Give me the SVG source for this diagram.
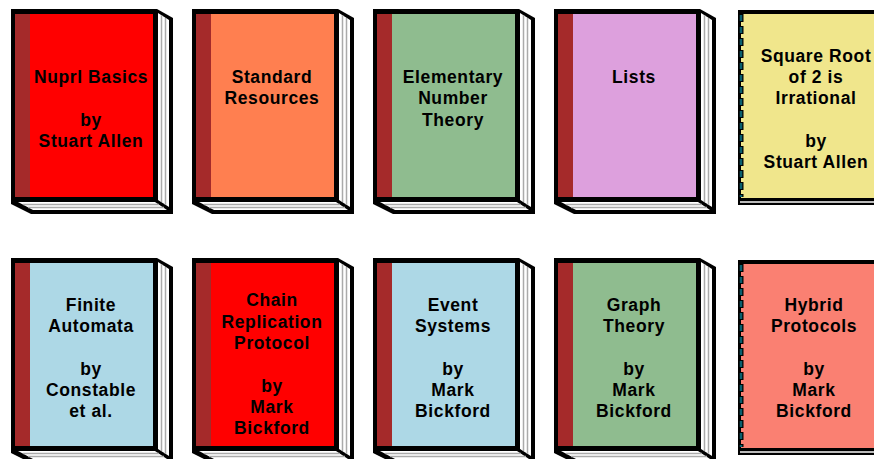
<svg xmlns="http://www.w3.org/2000/svg" xmlns:xlink="http://www.w3.org/1999/xlink" width="874" height="459" viewBox="0 0 874 459">
<style>
text{font-family:"Liberation Sans",Arial,sans-serif;font-weight:bold;font-size:17.5px;letter-spacing:.6px;text-anchor:middle;fill:#000}
.k{fill:#000}.w{fill:#fff}.g{fill:#bbb}.b{fill:#a52a2a}
.pg{stroke:#aaa;stroke-width:1.500;fill:none}
.beadk{stroke:#000;stroke-width:5;stroke-dasharray:8 4;fill:none}
.beadt{stroke:#0a5f6e;stroke-width:2.500;stroke-dasharray:6 6;stroke-dashoffset:-1;fill:none}
</style>
<defs>
<g id="book">
<path class="k" d="M11 9H157L173 18V214H31L11 204Z"/>
<path class="w" d="M158 13L169 20V207L158 200Z"/>
<path class="w" d="M18 202H155L167 210H33Z"/>
<path class="pg" d="M161.500 15V202M165.500 18V205"/>
<path class="pg" d="M23 204.500H159M28 207.500H164"/>
<rect class="b" x="15" y="14" width="15" height="183"/>
</g>
<g id="notebook">
<rect class="k" x="738" y="10" width="140" height="195"/>
<rect x="740" y="201" width="140" height="2" class="g"/>
</g>
<path id="beads" d="M741 14V197"/>
</defs>
<g id="book-nuprl"><use xlink:href="#book"/><rect x="30" y="14" width="123" height="183" fill="#f00"/><text x="91" y="83">Nuprl Basics</text><text x="91" y="126">by</text><text x="91" y="147">Stuart Allen</text></g>
<g id="book-standard" transform="translate(181 0)"><use xlink:href="#book"/><rect x="30" y="14" width="123" height="183" fill="#ff7f50"/><text x="91" y="83">Standard</text><text x="91" y="104">Resources</text></g>
<g id="book-number" transform="translate(362 0)"><use xlink:href="#book"/><rect x="30" y="14" width="123" height="183" fill="#8fbc8f"/><text x="91" y="83">Elementary</text><text x="91" y="104">Number</text><text x="91" y="126">Theory</text></g>
<g id="book-lists" transform="translate(543 0)"><use xlink:href="#book"/><rect x="30" y="14" width="123" height="183" fill="#dda0dd"/><text x="91" y="83">Lists</text></g>
<g id="notebook-sqrt"><use xlink:href="#notebook"/><rect x="741" y="14" width="133" height="184" fill="#f0e68c"/><use xlink:href="#beads" class="beadk"/><use xlink:href="#beads" class="beadt"/><text x="816" y="62">Square Root</text><text x="816" y="83">of 2 is</text><text x="816" y="104">Irrational</text><text x="816" y="147">by</text><text x="816" y="168">Stuart Allen</text></g>
<g id="book-automata" transform="translate(0 249)"><use xlink:href="#book"/><rect x="30" y="14" width="123" height="183" fill="#add8e6"/><text x="91" y="62">Finite</text><text x="91" y="83">Automata</text><text x="91" y="126">by</text><text x="91" y="147">Constable</text><text x="91" y="168">et al.</text></g>
<g id="book-chain" transform="translate(181 249)"><use xlink:href="#book"/><rect x="30" y="14" width="123" height="183" fill="#f00"/><text x="91" y="57">Chain</text><text x="91" y="79">Replication</text><text x="91" y="100">Protocol</text><text x="91" y="143">by</text><text x="91" y="164">Mark</text><text x="91" y="185">Bickford</text></g>
<g id="book-event" transform="translate(362 249)"><use xlink:href="#book"/><rect x="30" y="14" width="123" height="183" fill="#add8e6"/><text x="91" y="62">Event</text><text x="91" y="83">Systems</text><text x="91" y="126">by</text><text x="91" y="147">Mark</text><text x="91" y="168">Bickford</text></g>
<g id="book-graph" transform="translate(543 249)"><use xlink:href="#book"/><rect x="30" y="14" width="123" height="183" fill="#8fbc8f"/><text x="91" y="62">Graph</text><text x="91" y="83">Theory</text><text x="91" y="126">by</text><text x="91" y="147">Mark</text><text x="91" y="168">Bickford</text></g>
<g id="notebook-hybrid" transform="translate(0 250)"><use xlink:href="#notebook"/><rect x="741" y="14" width="133" height="184" fill="#fa8072"/><use xlink:href="#beads" class="beadk"/><use xlink:href="#beads" class="beadt"/><text x="814" y="61">Hybrid</text><text x="814" y="82">Protocols</text><text x="814" y="125">by</text><text x="814" y="146">Mark</text><text x="814" y="167">Bickford</text></g>
<g id="connectors"/>
</svg>
